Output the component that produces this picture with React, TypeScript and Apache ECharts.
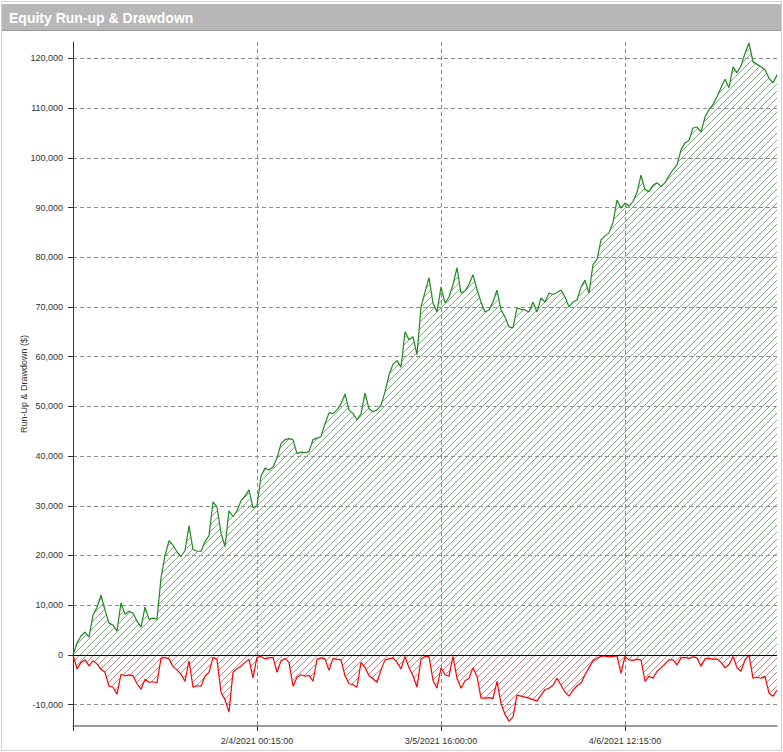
import React, { useEffect, useRef } from "react";
import * as echarts from "echarts";

const title = "Equity Run-up & Drawdown";
const yAxisName = "Run-Up & Drawdown ($)";

// Run-up (equity) per trade step
const runUp = [
  0, 2400, 3800, 4600, 3600, 8000, 9600, 12000, 9000, 6400,
  6000, 4800, 10500, 8200, 8800, 8400, 6800, 5600, 9600, 7200,
  7400, 7200, 15500, 20000, 23000, 22100, 20700, 19800, 21000, 26000,
  21200, 20900, 20800, 22800, 24000, 30800, 29800, 24500, 21800, 29000,
  27800, 29000, 31000, 32000, 33200, 29600, 30000, 36000, 37600, 37200,
  37800, 39600, 42500, 43300, 43500, 43300, 40500, 40800, 40700, 40900,
  43300, 43600, 43900, 46500, 48700, 48600, 49300, 50500, 52500, 49300,
  48600, 47300, 48500, 52700, 49500, 48900, 49300, 50200, 52900, 56300,
  58500, 59200, 57900, 65000, 63400, 64000, 60400, 70000, 73000, 75900,
  70800, 69000, 74000, 70800, 72000, 74500, 77900, 72800, 73200, 74500,
  76500, 73500, 71000, 69000, 69400, 71000, 73400, 69400, 68000, 66000,
  65800, 69800, 69500, 69400, 69000, 71000, 69000, 71800, 71000, 72800,
  72500, 72900, 73400, 72000, 70000, 71000, 71400, 74000, 75400, 72800,
  78500, 79500, 83500, 84300, 84900, 87000, 91500, 89900, 90900, 90300,
  91200, 93000, 96500, 93600, 93200, 94500, 95000, 94200, 95000, 96400,
  97600, 98600, 101600, 103000, 103500, 106000, 106200, 105200, 108200, 109700,
  110700, 112300, 114100, 115800, 114100, 118300, 117100, 118500, 121000, 123100,
  119300, 118800, 118300, 117700, 116000, 115100, 116700,
];

// Drawdown per trade step
const drawdown = [
  0, -2800, -1500, -1000, -2200, -1200, -1800, -2900, -3500, -6300,
  -6500, -7900, -3900, -4200, -4000, -4200, -5800, -6900, -4900, -5500,
  -5400, -5600, -700, -500, -800, -2300, -3000, -3900, -5300, -1200,
  -6500, -6200, -6300, -4300, -3500, -500, -900, -7500, -9000, -11500,
  -3500, -2800, -2300, -1500, -900, -4600, -500, -300, -800, -600,
  -500, -3500, -1200, -700, -1500, -6300, -4500, -4000, -4300, -4100,
  -5300, -900, -600, -800, -3100, -700, -900, -1000, -4200, -5800,
  -6000, -6500, -1500, -2500, -4200, -4800, -5500, -3000, -1000, -800,
  -600, -1500, -2800, -300, -2600, -4200, -6500, -800, -300, -400,
  -5100, -6700, -2600, -4000, -4300, -300, -4700, -6700, -5200, -4700,
  -2600, -4300, -8700, -8700, -8600, -8800, -5300, -9800, -12000, -13300,
  -12500, -8100, -8300, -8500, -8700, -9000, -9300, -8100, -7000, -6700,
  -6100, -4700, -6100, -7500, -8300, -7100, -6200, -5700, -4000, -2600,
  -1200, -700, -300, -200, -400, -300, -200, -3700, -300, -1000,
  -1100, -900, -1000, -5300, -4300, -4700, -3300, -2600, -1800, -1000,
  -1000, -2000, -600, -500, -700, -400, -600, -2300, -800, -700,
  -900, -800, -1500, -2600, -2000, -300, -2600, -3300, -1000, 0,
  -4700, -4500, -4700, -4300, -7700, -8300, -7100,
];

// X tick positions (trade index) and their labels
const xTickIndex = [46, 92, 138];
const xTickLabels = ["2/4/2021 00:15:00", "3/5/2021 16:00:00", "4/6/2021 12:15:00"];

// Y axis extent and step
const yMin = -14300;
const yMax = 123300;
const yStep = 10000;

function hatch(color: string) {
  const c = document.createElement("canvas");
  c.width = 7;
  c.height = 7;
  const ctx = c.getContext("2d");
  if (ctx) {
    ctx.fillStyle = color;
    for (let k = 0; k < 7; k++) ctx.fillRect(k, 6 - k, 1, 1);
  }
  return { image: c.toDataURL(), repeat: "repeat", imageWidth: 7, imageHeight: 7 };
}

export default function App() {
  const ref = useRef<HTMLDivElement>(null);

  useEffect(() => {
    if (!ref.current) return;
    const chart = echarts.init(ref.current, null, { renderer: "svg" });
    const categories = runUp.map((_, i) => String(i));
    const step = xTickIndex[0];
    const font = "Liberation Sans";

    chart.setOption({
      animation: false,
      backgroundColor: "#ffffff",
      graphic: [
        {
          type: "rect",
          z: -10,
          shape: { x: 1.5, y: 1.5, width: 780, height: 749 },
          style: { fill: "none", stroke: "#cfcfcf", lineWidth: 1 },
        },
        {
          type: "rect",
          shape: { x: 2, y: 4, width: 779, height: 26 },
          style: { fill: "#b7b7b7" },
        },
        {
          type: "line",
          shape: { x1: 2, y1: 30.5, x2: 781, y2: 30.5 },
          style: { stroke: "#9a9a9a", lineWidth: 1 },
        },
        {
          type: "text",
          x: 9,
          y: 17.5,
          style: {
            text: title,
            fill: "#ffffff",
            font: `bold 14px "${font}"`,
            verticalAlign: "middle",
          },
        },
      ],
      grid: { left: 73, right: 6, top: 42, bottom: 26, containLabel: false },
      xAxis: {
        type: "category",
        data: categories,
        boundaryGap: false,
        axisLine: { onZero: false, lineStyle: { color: "#7a7a7a", width: 1.5 } },
        axisTick: {
          show: true,
          length: 5,
          interval: (i: number) => i % step === 0,
          lineStyle: { color: "#333" },
        },
        axisLabel: {
          interval: (i: number) => i % step === 0,
          formatter: (_v: string, i: number) => {
            const k = xTickIndex.indexOf(i);
            return k >= 0 ? xTickLabels[k] : "";
          },
          color: "#333",
          fontFamily: font,
          fontSize: 9,
          margin: 10,
        },
        splitLine: {
          show: true,
          interval: (i: number) => i > 0 && i % step === 0,
          lineStyle: { color: "#8c8c8c", type: [4, 3], width: 1 },
        },
      },
      yAxis: {
        type: "value",
        min: yMin,
        max: yMax,
        splitNumber: 14,
        minInterval: yStep,
        maxInterval: yStep,
        name: yAxisName,
        nameLocation: "middle",
        nameGap: 45,
        nameMoveOverlap: false,
        nameTextStyle: { color: "#333", fontFamily: font, fontSize: 9 },
        axisLine: { show: true, lineStyle: { color: "#333", width: 1 } },
        axisTick: { show: true, length: 5, lineStyle: { color: "#333" } },
        axisLabel: {
          showMinLabel: false,
          showMaxLabel: false,
          color: "#333",
          fontFamily: font,
          fontSize: 9,
          margin: 10,
          formatter: (v: number) => v.toLocaleString("en-US"),
        },
        splitLine: {
          show: true,
          showMinLine: false,
          showMaxLine: false,
          lineStyle: { color: "#8c8c8c", type: [4, 3], width: 1 },
        },
      },
      series: [
        {
          name: "Run-up",
          type: "line",
          data: runUp,
          symbol: "none",
          showSymbol: false,
          silent: true,
          lineStyle: { color: "#1f8a1f", width: 1.2 },
          itemStyle: { color: "#1f8a1f" },
          areaStyle: { color: hatch("#86ad86"), opacity: 1 },
          z: 2,
          markLine: {
            silent: true,
            symbol: ["none", "none"],
            label: { show: false },
            lineStyle: { color: "#000", type: "solid", width: 1 },
            data: [{ yAxis: 0 }],
            z: 5,
          },
        },
        {
          name: "Drawdown",
          type: "line",
          data: drawdown,
          symbol: "none",
          showSymbol: false,
          silent: true,
          lineStyle: { color: "#ff0000", width: 1.2 },
          itemStyle: { color: "#ff0000" },
          areaStyle: { color: hatch("#bf8a8a"), opacity: 1 },
          z: 2,
        },
      ],
    });

    return () => chart.dispose();
  }, []);

  return (
    <div
      ref={ref}
      style={{ position: "fixed", left: 0, top: 0, width: 783, height: 752, background: "#fff" }}
    />
  );
}
